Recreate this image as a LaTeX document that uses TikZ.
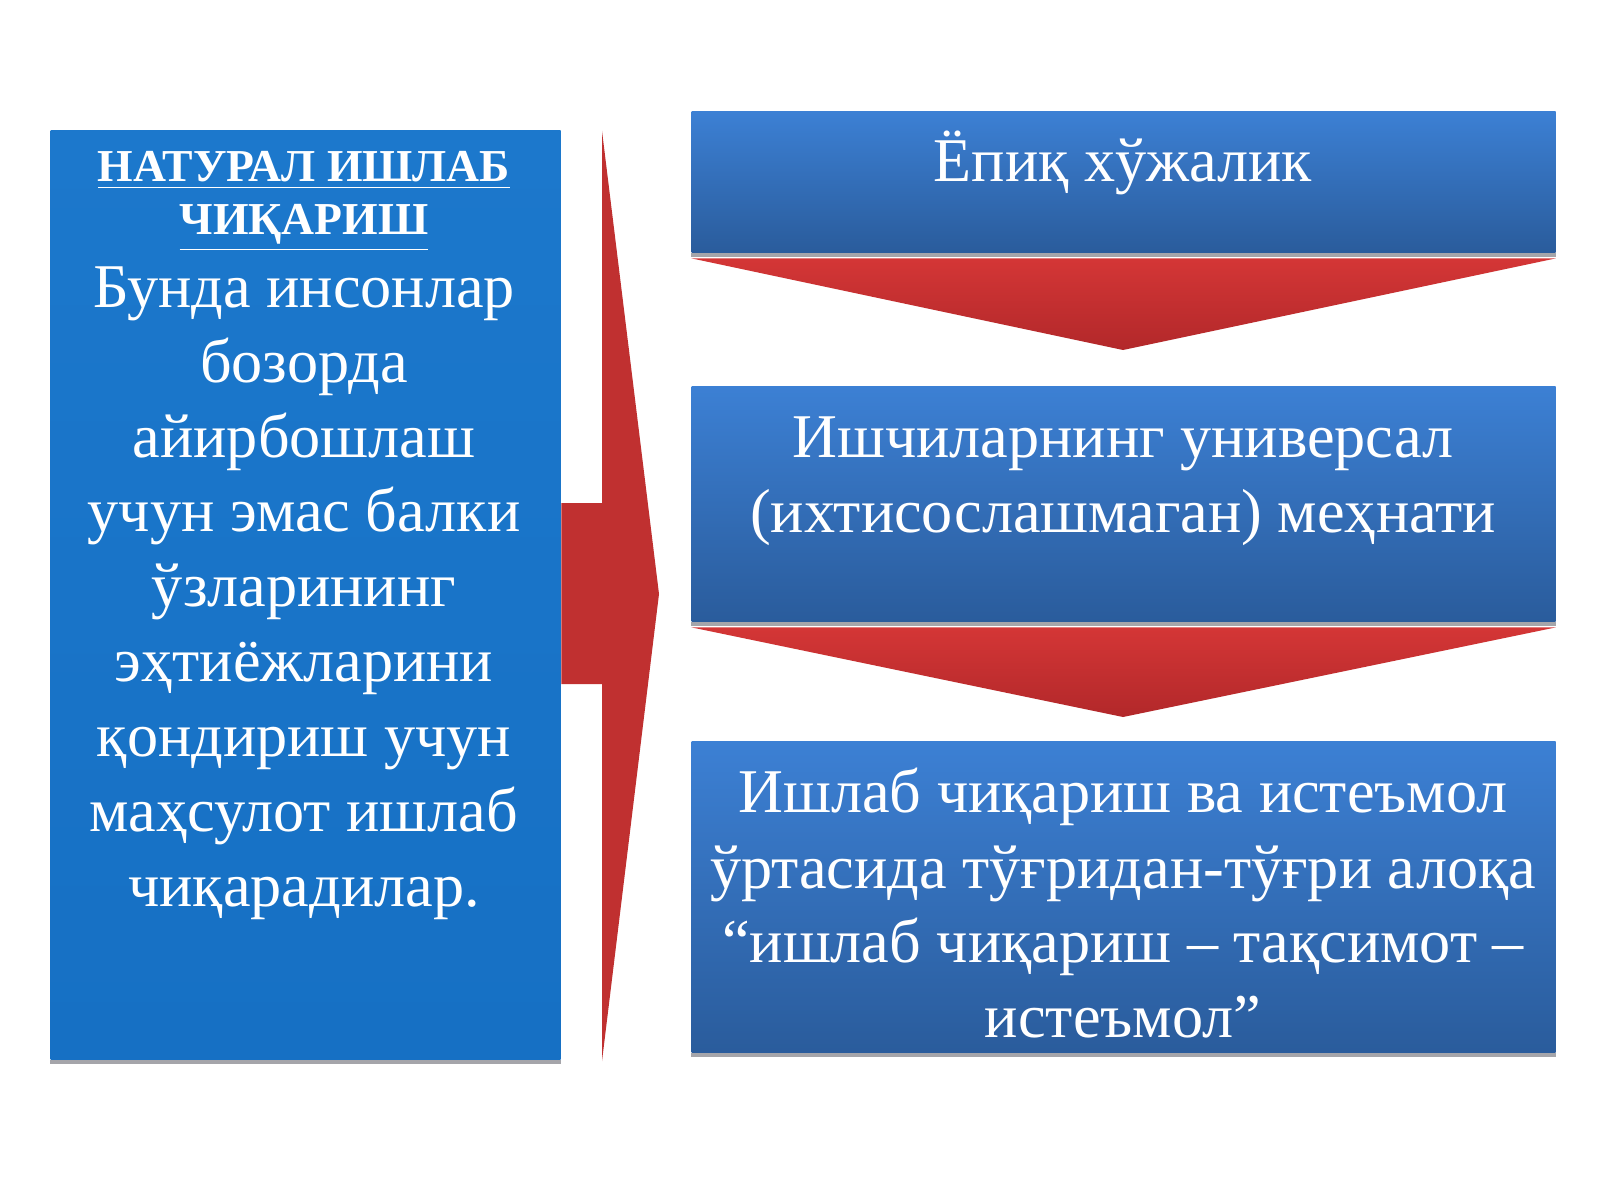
\documentclass[tikz,border=0pt]{standalone}
\usepackage{fontspec}
\setmainfont{Liberation Serif}
\definecolor{lblue}{RGB}{22,112,196}
\definecolor{lbluelt}{RGB}{28,120,204}
\definecolor{rtop}{RGB}{60,128,212}
\definecolor{rbot}{RGB}{42,92,156}
\definecolor{redtop}{RGB}{212,54,54}
\definecolor{redbot}{RGB}{178,40,42}
\definecolor{redarrow}{RGB}{192,48,48}
\definecolor{shadowgray}{RGB}{165,165,170}
\tikzset{
  leftbox/.style={rectangle, draw=none, inner sep=0pt, anchor=south west,
    top color=lbluelt, bottom color=lblue},
  rightbox/.style={rectangle, draw=none, inner sep=0pt, anchor=south west,
    minimum width=8.64cm, top color=rtop, bottom color=rbot},
  redtri/.style={top color=redtop, bottom color=redbot},
  boxshadow/.style={draw=shadowgray, line width=1pt},
  bodytxt/.style={text=white, inner sep=0pt, anchor=base,
    font=\fontsize{17.7pt}{21.3pt}\selectfont},
  headtxt/.style={text=white, inner sep=0pt, anchor=base,
    font=\fontsize{13pt}{15pt}\selectfont\bfseries},
}
\begin{document}
\begin{tikzpicture}
\useasboundingbox[fill=white] (0,0) rectangle (16,12);
% left box
\node[leftbox, minimum width=5.10cm, minimum height=9.29cm] (lb) at (0.50,1.40) {};
\draw[boxshadow] ([yshift=-0.5pt]lb.south west) -- ([yshift=-0.5pt]lb.south east);
% big right arrow
\coordinate (ahtop) at (6.02,10.69);
\coordinate (ahtip) at (6.59,6.06);
\coordinate (ahbot) at (6.02,1.39);
\fill[redarrow] (lb.east |- 0,6.97) -- (6.02,6.97) -- (ahtop) -- (ahtip) -- (ahbot)
  -- (6.02,5.16) -- (lb.east |- 0,5.16) -- cycle;
% right boxes
\node[rightbox, minimum height=1.41cm] (b1) at (6.91,9.47) {};
\node[rightbox, minimum height=2.35cm] (b2) at (6.91,5.78) {};
\node[rightbox, minimum height=3.11cm] (b3) at (6.91,1.47) {};
\foreach \b in {b1,b2,b3}
  \draw[boxshadow] ([yshift=-0.5pt]\b.south west) -- ([yshift=-0.5pt]\b.south east);
% down triangles
\coordinate (t1tip) at (11.23,8.50);
\coordinate (t2tip) at (11.23,4.83);
\path[redtri] ([yshift=-1.5pt]b1.south west) -- ([yshift=-1.5pt]b1.south east) -- (t1tip) -- cycle;
\path[redtri] ([yshift=-1.5pt]b2.south west) -- ([yshift=-1.5pt]b2.south east) -- (t2tip) -- cycle;
% left texts
\node[headtxt] (h1) at (3.04,10.18) {\underline{НАТУРАЛ ИШЛАБ}};
\node[headtxt] (h2) at (3.04,9.65) {\underline{ЧИҚАРИШ}};
\node[bodytxt] (l1) at (3.04,8.93) {Бунда инсонлар};
\node[bodytxt] (l2) at (3.04,8.18) {бозорда};
\node[bodytxt] (l3) at (3.04,7.43) {айирбошлаш};
\node[bodytxt] (l4) at (3.04,6.69) {учун эмас балки};
\node[bodytxt] (l5) at (3.04,5.94) {ўзларининг};
\node[bodytxt] (l6) at (3.04,5.19) {эҳтиёжларини};
\node[bodytxt] (l7) at (3.04,4.44) {қондириш учун};
\node[bodytxt] (l8) at (3.04,3.69) {маҳсулот ишлаб};
\node[bodytxt] (l9) at (3.04,2.94) {чиқарадилар.};
% right texts
\node[bodytxt] (r1) at (11.23,10.18) {Ёпиқ хўжалик};
\node[bodytxt] (r2a) at (11.23,7.43) {Ишчиларнинг универсал};
\node[bodytxt] (r2b) at (11.23,6.68) {(ихтисослашмаган) меҳнати};
\node[bodytxt] (r3a) at (11.23,3.88) {Ишлаб чиқариш ва истеъмол};
\node[bodytxt] (r3b) at (11.23,3.12) {ўртасида тўғридан-тўғри алоқа};
\node[bodytxt] (r3c) at (11.23,2.38) {“ишлаб чиқариш – тақсимот –};
\node[bodytxt] (r3d) at (11.23,1.63) {истеъмол”};
\end{tikzpicture}
\end{document}
